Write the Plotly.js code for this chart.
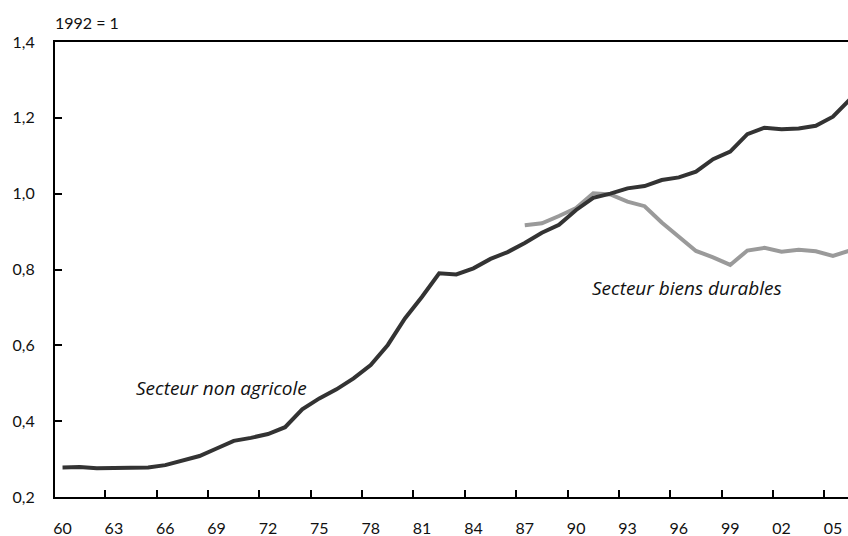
<!DOCTYPE html>
<html>
<head>
<meta charset="utf-8">
<script src="https://cdn.plot.ly/plotly-3.0.1.min.js"></script>
<style>html,body{margin:0;padding:0;background:#fff;}#chart{width:848px;height:536px;}</style>
</head>
<body>
<div id="chart"></div>
<script>
// Data
const yearsNonAgri = [1960,1961,1962,1963,1964,1965,1966,1967,1968,1969,1970,1971,1972,1973,1974,1975,1976,1977,1978,1979,1980,1981,1982,1983,1984,1985,1986,1987,1988,1989,1990,1991,1992,1993,1994,1995,1996,1997,1998,1999,2000,2001,2002,2003,2004,2005,2006];
const nonAgricole = [0.278,0.279,0.276,0.276,0.277,0.278,0.284,0.295,0.308,0.328,0.348,0.356,0.366,0.384,0.431,0.460,0.484,0.513,0.548,0.601,0.671,0.728,0.790,0.787,0.803,0.828,0.846,0.870,0.897,0.918,0.957,0.989,1.000,1.014,1.020,1.036,1.043,1.058,1.091,1.111,1.157,1.174,1.170,1.172,1.179,1.203,1.249];
const yearsDurables = [1987,1988,1989,1990,1991,1992,1993,1994,1995,1996,1997,1998,1999,2000,2001,2002,2003,2004,2005,2006];
const biensDurables = [0.917,0.922,0.941,0.962,1.001,0.998,0.979,0.967,0.924,0.886,0.849,0.832,0.812,0.850,0.857,0.847,0.852,0.848,0.836,0.850];
const tickYears = [1960,1963,1966,1969,1972,1975,1978,1981,1984,1987,1990,1993,1996,1999,2002,2005];
const tickLabels = ['60','63','66','69','72','75','78','81','84','87','90','93','96','99','02','05'];
const yTicks = [0.2,0.4,0.6,0.8,1.0,1.2,1.4];
const unitLabel = '1992 = 1';
const labelNonAgri = 'Secteur non agricole';
const labelDurables = 'Secteur biens durables';

const FONT = 'Lato, "Open Sans", "DejaVu Sans", sans-serif';
const AFONT = '"Open Sans", Lato, sans-serif';

const traces = [
  {x: yearsDurables, y: biensDurables, type: 'scatter', mode: 'lines',
   line: {color: '#9a9a9a', width: 4}, hoverinfo: 'skip'},
  {x: yearsNonAgri, y: nonAgricole, type: 'scatter', mode: 'lines',
   line: {color: '#333333', width: 4}, hoverinfo: 'skip'}
];

const layout = {
  width: 848, height: 536,
  margin: {l: 55, r: 0, t: 42, b: 39, pad: 0},
  paper_bgcolor: '#ffffff', plot_bgcolor: '#ffffff',
  showlegend: false,
  separators: ', ',
  font: {family: FONT, size: 16, color: '#111111'},
  xaxis: {
    range: [1959.56, 2005.88],
    tickmode: 'array',
    tickvals: tickYears,
    ticktext: tickLabels,
    ticks: '', ticklabelstandoff: 16,
    minor: {tickmode: 'array', tickvals: tickYears.map(y => y - 0.5),
            ticks: 'inside', ticklen: 7, tickwidth: 2, tickcolor: '#000', showgrid: false},
    showline: true, linecolor: '#000', linewidth: 2, mirror: true,
    showgrid: false, zeroline: false, fixedrange: true,
    tickfont: {family: FONT, size: 16, color: '#111'}
  },
  yaxis: {
    range: [0.2, 1.4],
    tickmode: 'array', tickvals: yTicks, tickformat: '.1f',
    ticks: 'inside', ticklen: 7, tickwidth: 2, tickcolor: '#000',
    ticklabelstandoff: 15,
    showline: true, linecolor: '#000', linewidth: 2,
    showgrid: false, zeroline: false, fixedrange: true,
    tickfont: {family: FONT, size: 16, color: '#111'}
  },
  annotations: [
    {xref: 'paper', yref: 'paper', x: 0, y: 1, xanchor: 'left', yanchor: 'bottom',
     yshift: 8, xshift: -2, text: unitLabel, showarrow: false,
     font: {family: FONT, size: 16, color: '#111'}},
    {x: 1969.3, y: 0.487, text: '<i>' + labelNonAgri + '</i>', showarrow: false,
     font: {family: AFONT, size: 19, color: '#111'}},
    {x: 1996.45, y: 0.751, text: '<i>' + labelDurables + '</i>', showarrow: false,
     font: {family: AFONT, size: 19, color: '#111'}}
  ]
};

Plotly.newPlot('chart', traces, layout, {staticPlot: true, displayModeBar: false});
</script>
</body>
</html>
